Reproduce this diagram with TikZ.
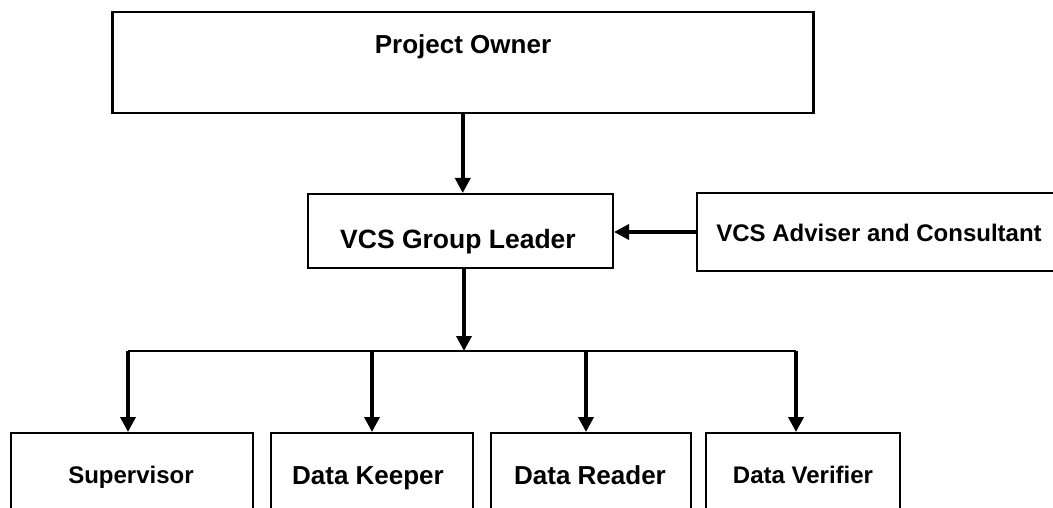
\documentclass[tikz,border=0pt]{standalone}
\usepackage{fontspec}
\setmainfont{Liberation Sans}
\usetikzlibrary{arrows.meta}
\begin{document}
\begin{tikzpicture}[x=1pt,y=-1pt,
  box/.style={draw, line width=2pt, inner sep=0pt, anchor=north west},
  lbl/.style={anchor=base, inner sep=0pt, font=\bfseries\fontsize{#1}{#1}\selectfont},
  feed/.style={line width=3.5pt, -{Triangle[length=15pt,width=15pt]}},
  bus/.style={line width=2pt}]
\clip (0,0) rectangle (1053,508);

% top level
\node[box, line width=2.5pt, minimum width=701pt, minimum height=101pt] (po) at (111,11) {};
\node[lbl=26] (pot) at (463,54) {Project Owner};

% group leader and adviser
\node[box, minimum width=305pt, minimum height=74pt] (gl) at (307,193) {};
\node[lbl=26.5] (glt) at (458,248) {VCS Group Leader};
\node[box, minimum width=366pt, minimum height=78pt] (adv) at (696,192) {};
\node[lbl=24] (advt) at (879,241) {VCS Adviser and Consultant};

% team members
\node[box, minimum width=242pt, minimum height=100pt] (sup) at (10,432) {};
\node[lbl=24] (supt) at (131,483) {Supervisor};
\node[box, minimum width=202pt, minimum height=100pt] (keep) at (270,432) {};
\node[lbl=26] (keept) at (368,484) {Data Keeper};
\node[box, minimum width=200pt, minimum height=100pt] (read) at (490,432) {};
\node[lbl=26] (readt) at (590,484) {Data Reader};
\node[box, minimum width=194pt, minimum height=100pt] (ver) at (705,432) {};
\node[lbl=24] (vert) at (803,483) {Data Verifier};

% distribution bus
\coordinate (busmid) at (464,351);
\coordinate (b1) at (128,351);
\coordinate (b2) at (372,351);
\coordinate (b3) at (586,351);
\coordinate (b4) at (796,351);

% connectors
\draw[feed] (po.south) -- (gl.north -| po.south);
\draw[feed] (adv.west) -- (adv.west -| gl.east);
\draw[feed] (gl.south -| busmid) -- (busmid);
\draw[bus] (b1) -- (b4);
\draw[feed] (b1) -- (b1 |- sup.north);
\draw[feed] (b2) -- (b2 |- keep.north);
\draw[feed] (b3) -- (b3 |- read.north);
\draw[feed] (b4) -- (b4 |- ver.north);
\end{tikzpicture}
\end{document}
